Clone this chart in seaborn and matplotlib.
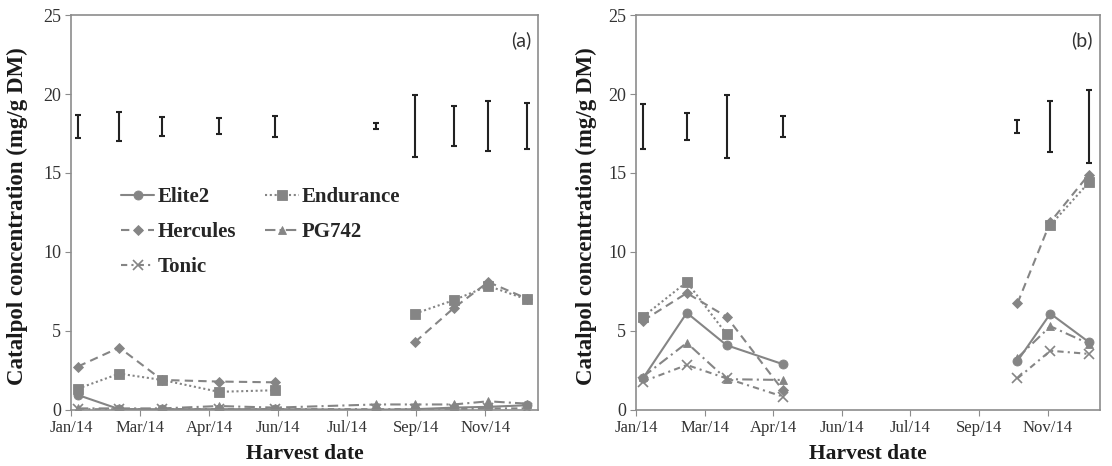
import matplotlib
matplotlib.use('Agg')
import matplotlib.pyplot as plt
import seaborn as sns
import pandas as pd
import numpy as np

# harvest dates and catalpol values (mg/g DM)
cultivars = ['Elite2', 'Endurance', 'Hercules', 'PG742', 'Tonic']

dates_a = ['2014-01-15', '2014-02-14', '2014-03-17', '2014-04-27', '2014-06-07',
           '2014-08-19', '2014-09-16', '2014-10-14', '2014-11-08', '2014-12-06']
season_a = [1, 1, 1, 1, 1, 1, 1, 1, 1, 1]
elite2_a = [0.95, 0.05, 0.05, 0.05, 0.05, 0.02, 0.05, 0.15, 0.2, 0.3]
endurance_a = [1.35, 2.3, 1.9, 1.15, 1.25, np.nan, 6.1, 6.95, 7.85, 7.0]
hercules_a = [2.75, 3.95, 1.9, 1.8, 1.75, np.nan, 4.3, 6.45, 8.1, 7.05]
pg742_a = [0.1, 0.1, 0.1, 0.25, 0.15, 0.35, 0.35, 0.35, 0.55, 0.4]
tonic_a = [0.05, 0.05, 0.05, 0.05, 0.05, 0.05, 0.05, 0.05, 0.1, 0.1]
lsd_a = [1.43, 1.79, 1.18, 1.01, 1.35, 0.38, 3.93, 2.53, 3.17, 2.91]

dates_b = ['2014-01-15', '2014-02-16', '2014-03-17', '2014-04-27',
           '2014-10-15', '2014-11-08', '2014-12-06']
season_b = [1, 1, 1, 1, 2, 2, 2]
elite2_b = [2.0, 6.15, 4.1, 2.9, 3.1, 6.1, 4.3]
endurance_b = [5.9, 8.1, 4.8, np.nan, np.nan, 11.7, 14.4]
hercules_b = [5.65, 7.4, 5.9, 1.25, 6.75, 11.9, 14.9]
pg742_b = [2.1, 4.25, 1.95, 1.9, 3.3, 5.3, 4.2]
tonic_b = [1.8, 2.85, 2.0, 0.85, 2.0, 3.75, 3.55]
lsd_b = [2.89, 1.69, 4.03, 1.37, 0.83, 3.25, 4.65]

lsd_mid = 17.95

tick_dates = ['2014-01-10', '2014-03-01', '2014-04-20', '2014-06-09',
              '2014-07-29', '2014-09-17', '2014-11-06']
tick_labels = ['Jan/14', 'Mar/14', 'Apr/14', 'Jun/14', 'Jul/14', 'Sep/14', 'Nov/14']
x_start, x_end = '2014-01-10', '2014-12-14'

GREY = '#858585'
styles = {
    'Elite2': dict(marker='o', markersize=6.5, linestyle='-'),
    'Endurance': dict(marker='s', markersize=6.5, linestyle=(0, (1, 1.3))),
    'Hercules': dict(marker='D', markersize=4.8, linestyle=(0, (4, 2.5))),
    'PG742': dict(marker='^', markersize=6, linestyle=(0, (5, 2, 1, 2))),
    'Tonic': dict(marker='x', markersize=6.5, linestyle=(0, (3, 2, 1, 2)), markeredgewidth=1.2),
}


def long_table(dates, seasons, series):
    # a line breaks at a missing value or where a new growing season starts
    rows = []
    for name, vals in zip(cultivars, series):
        gaps = 0
        for d, s, v in zip(dates, seasons, vals):
            if np.isnan(v):
                gaps += 1
                continue
            rows.append({'date': pd.Timestamp(d), 'conc': v, 'cultivar': name,
                         'seg': s * 100 + gaps})
    return pd.DataFrame(rows)


sns.set_style('ticks')
plt.rcParams['font.family'] = ['Liberation Serif', 'DejaVu Serif']

fig = plt.figure(figsize=(11.12, 4.66), dpi=100)
ax_a = fig.add_axes([0.0638, 0.1202, 0.42, 0.8476])
ax_b = fig.add_axes([0.572, 0.1202, 0.417, 0.8476])

panels = [
    (ax_a, dates_a, season_a, [elite2_a, endurance_a, hercules_a, pg742_a, tonic_a], lsd_a, '(a)', -0.092),
    (ax_b, dates_b, season_b, [elite2_b, endurance_b, hercules_b, pg742_b, tonic_b], lsd_b, '(b)', -0.084),
]

for ax, dates, seasons, series, lsd, tag, ylab_x in panels:
    df = long_table(dates, seasons, series)
    for name in cultivars:
        sub = df[df['cultivar'] == name]
        kw = dict(styles[name])
        kw.setdefault('markeredgewidth', 0.6)
        sns.lineplot(data=sub, x='date', y='conc', units='seg', estimator=None,
                     color=GREY, markeredgecolor=GREY, linewidth=1.5,
                     label=name, ax=ax, **kw)

    ax.errorbar(pd.to_datetime(dates), [lsd_mid] * len(lsd), yerr=np.array(lsd) / 2,
                fmt='none', ecolor='#222222', elinewidth=1.5, capsize=2.5, capthick=1.5)

    ax.set_ylim(0, 25)
    ax.set_yticks([0, 5, 10, 15, 20, 25])
    ax.set_xlim(pd.Timestamp(x_start), pd.Timestamp(x_end))
    ax.set_xticks(pd.to_datetime(tick_dates))
    ax.set_xticklabels(tick_labels)
    ax.tick_params(axis='y', labelsize=13, length=4, color='#8c8c8c', labelcolor='#333333', pad=3)
    ax.tick_params(axis='x', labelsize=12, length=4, color='#8c8c8c', labelcolor='#333333', pad=3)
    for sp in ax.spines.values():
        sp.set_visible(True)
        sp.set_color('#8c8c8c')
        sp.set_linewidth(1.2)

    ax.set_ylabel('Catalpol concentration (mg/g DM)', fontsize=16.5, fontweight='bold', color='#1a1a1a')
    ax.yaxis.set_label_coords(ylab_x, 0.49)
    ax.set_xlabel('Harvest date', fontsize=15.5, fontweight='bold', color='#1a1a1a')
    ax.xaxis.set_label_coords(0.5, -0.085)
    ax.text(0.985, 0.937, tag, transform=ax.transAxes, ha='right', va='center',
            fontsize=14, family=['Lato', 'DejaVu Sans'], color='#333333')
    if ax.get_legend() is not None:
        ax.get_legend().remove()

# legend only in panel (a); column-major order gives rows Elite2/Endurance, Hercules/PG742, Tonic
handles, labels = ax_a.get_legend_handles_labels()
by_label = {}
for h, l in zip(handles, labels):
    by_label.setdefault(l, h)
order = ['Elite2', 'Hercules', 'Tonic', 'Endurance', 'PG742']
ax_a.legend([by_label[k] for k in order], order, ncol=2, frameon=False,
            loc='upper left', bbox_to_anchor=(0.085, 0.59), borderpad=0,
            handlelength=1.6, handletextpad=0.15, columnspacing=1.4, labelspacing=0.72,
            prop={'family': 'Liberation Serif', 'weight': 'bold', 'size': 15})

fig.savefig('out.png', dpi=100)
